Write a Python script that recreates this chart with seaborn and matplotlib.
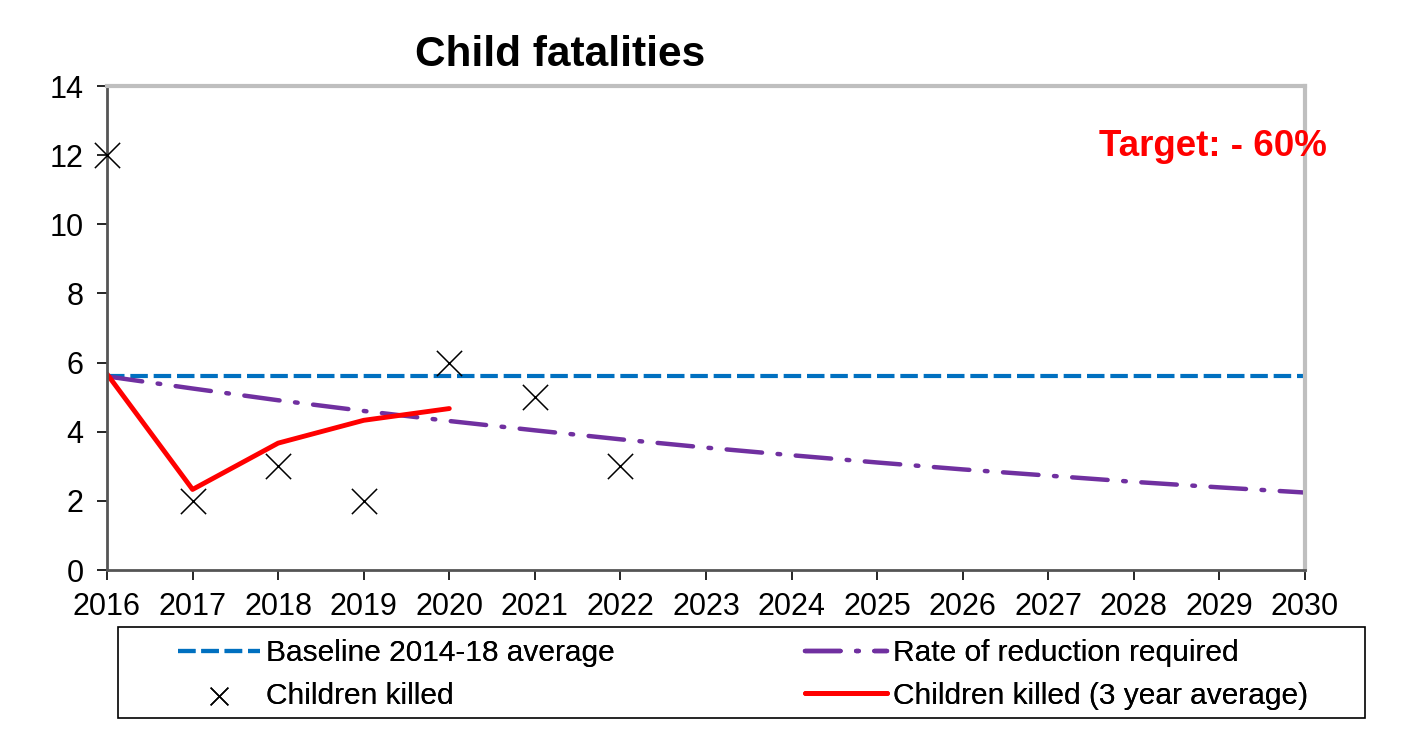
import matplotlib
matplotlib.use("Agg")
import matplotlib.pyplot as plt
import matplotlib.patches as mpatches
import seaborn as sns
import pandas as pd

# chart values
years = list(range(2016, 2031))
baseline = [5.6] * 15
reduction = [5.60, 5.25, 4.91, 4.60, 4.31, 4.04, 3.78, 3.54, 3.32, 3.11, 2.91, 2.73, 2.55, 2.39, 2.24]
killed_years = [2016, 2017, 2018, 2019, 2020, 2021, 2022]
killed = [12, 2, 3, 2, 6, 5, 3]
avg_years = [2016, 2017, 2018, 2019, 2020]
avg3 = [5.67, 2.33, 3.67, 4.33, 4.67]

sns.set_style("white")
plt.rcParams['font.family'] = ['Liberation Sans', 'DejaVu Sans']
plt.rcParams['text.color'] = 'black'

df_line = pd.DataFrame({'year': years, 'baseline': baseline, 'reduction': reduction})
df_kill = pd.DataFrame({'year': killed_years, 'killed': killed})
df_avg = pd.DataFrame({'year': avg_years, 'avg': avg3})

fig = plt.figure(figsize=(14.04, 7.5), dpi=100)
ax = fig.add_axes([107 / 1404, 1 - 570 / 750, (1305 - 107) / 1404, (570 - 86) / 750])

sns.lineplot(data=df_line, x='year', y='baseline', ax=ax, color='#0070C0', lw=3,
             label='Baseline 2014-18 average')
ax.lines[-1].set_dashes([4.2, 1.4])
sns.lineplot(data=df_line, x='year', y='reduction', ax=ax, color='#7030A0', lw=3.2,
             label='Rate of reduction required')
ax.lines[-1].set_dashes([8, 3.5, 0.6, 3.5])
ax.lines[-1].set_dash_capstyle('round')
sns.lineplot(data=df_avg, x='year', y='avg', ax=ax, color='#FF0000', lw=3.5,
             label='Children killed (3 year average)')
sns.scatterplot(data=df_kill, x='year', y='killed', ax=ax, marker='x', s=330,
                color='black', linewidth=1.1, clip_on=False, zorder=5,
                label='Children killed')

ax.set_xlim(2016, 2030)
ax.set_ylim(0, 14)
ax.set_xticks(years)
ax.set_yticks(range(0, 15, 2))
ax.set_xlabel('')
ax.set_ylabel('')
ax.tick_params(axis='both', labelsize=22, length=7, width=1.2, color='black',
               labelcolor='black', direction='out', left=True, bottom=True)
ax.tick_params(axis='x', pad=9)
ax.tick_params(axis='y', pad=10)
for side in ['top', 'right']:
    ax.spines[side].set_color('#BFBFBF')
    ax.spines[side].set_linewidth(3)
for side in ['left', 'bottom']:
    ax.spines[side].set_color('#555555')
    ax.spines[side].set_linewidth(2)

fig.text(560 / 1404, 1 - 55 / 750, 'Child fatalities', ha='center', va='center',
         fontsize=30.5, fontweight='bold')
fig.text(1327 / 1404, 1 - 147 / 750, 'Target: - 60%', ha='right', va='center',
         fontsize=26.5, fontweight='bold', color='#FF0000')

handles, labels = ax.get_legend_handles_labels()
hmap = dict(zip(labels, handles))
ax.get_legend().remove()

# legend frame
fig.patches.append(mpatches.Rectangle((118 / 1404, 1 - 718 / 750), (1365 - 118) / 1404, 91 / 750,
                                      transform=fig.transFigure, fill=False,
                                      edgecolor='black', linewidth=1.2))
leg_kw = dict(loc='upper left', fontsize=21.5, frameon=False, handlelength=2.75,
              handletextpad=0.2, borderpad=0, labelspacing=0.5, borderaxespad=0,
              markerscale=0.7)
cols = [(178, ['Baseline 2014-18 average', 'Children killed']),
        (805, ['Rate of reduction required', 'Children killed (3 year average)'])]
for x0, labs in cols:
    leg = fig.legend([hmap[l] for l in labs], labs,
                     bbox_to_anchor=(x0 / 1404, 1 - 639 / 750), **leg_kw)
    fig.add_artist(leg)

fig.savefig('out.png', dpi=100)
